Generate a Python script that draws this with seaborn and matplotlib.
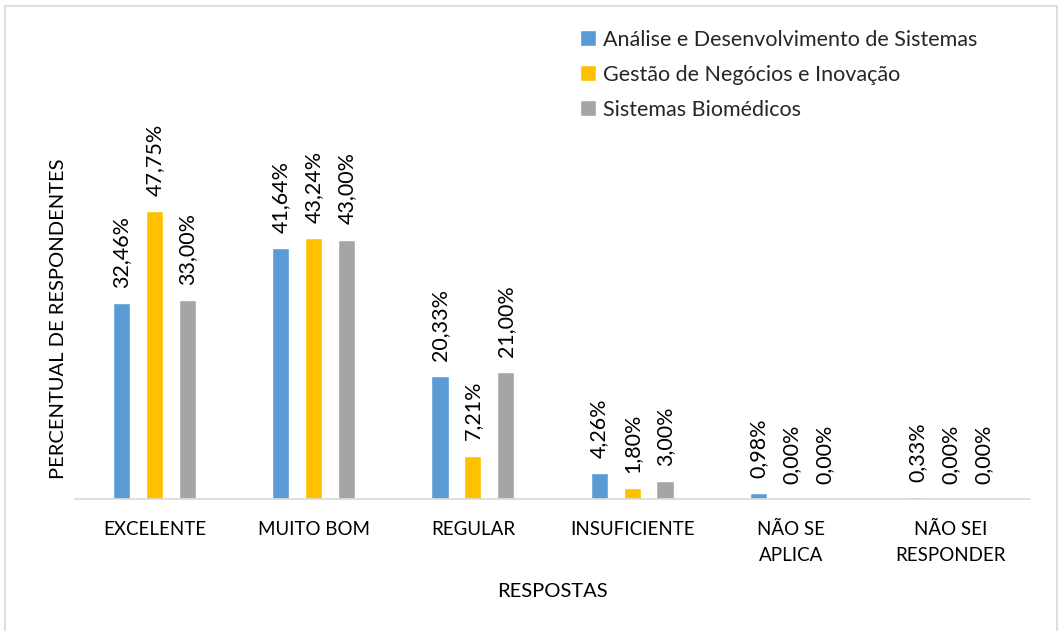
import matplotlib
matplotlib.use("Agg")
import matplotlib.pyplot as plt
import seaborn as sns
import pandas as pd
from matplotlib.patches import Rectangle

categorias = ["EXCELENTE", "MUITO BOM", "REGULAR", "INSUFICIENTE", "NÃO SE\nAPLICA", "NÃO SEI\nRESPONDER"]
cursos = ["Análise e Desenvolvimento de Sistemas", "Gestão de Negócios e Inovação", "Sistemas Biomédicos"]
ads = [32.46, 41.64, 20.33, 4.26, 0.98, 0.33]
gni = [47.75, 43.24, 7.21, 1.80, 0.00, 0.00]
sb = [33.00, 43.00, 21.00, 3.00, 0.00, 0.00]
cores = ["#5B9BD5", "#FFC000", "#A5A5A5"]

rows = []
for curso, vals in zip(cursos, [ads, gni, sb]):
    for cat, v in zip(categorias, vals):
        rows.append({"Resposta": cat, "Curso": curso, "Valor": v})
df = pd.DataFrame(rows)

sns.set_theme(style="white")
plt.rcParams["font.family"] = ["Lato", "DejaVu Sans"]

fig = plt.figure(figsize=(10.62, 6.31), dpi=100)
ax = fig.add_axes([75 / 1062, (631 - 499) / 631, (1030 - 75) / 1062, (499 - 20) / 631])

sns.barplot(data=df, x="Resposta", y="Valor", hue="Curso", order=categorias,
            hue_order=cursos, palette=cores, width=0.62, gap=0.48,
            saturation=1, ax=ax, legend=True, errorbar=None)

for cont in ax.containers:
    labels = [f"{b.get_height():.2f}%".replace(".", ",") for b in cont]
    ax.bar_label(cont, labels=labels, rotation=90, padding=11, fontsize=15.5, color="#000000")

ax.set_xlim(-0.5, 5.5)
ax.set_ylim(0, (499 - 20) / 6.03)
ax.set_yticks([])
for s in ["top", "right", "left"]:
    ax.spines[s].set_visible(False)
ax.spines["bottom"].set_color("#D9D9D9")
ax.spines["bottom"].set_linewidth(1.2)
ax.tick_params(axis="x", length=0, pad=16, labelsize=13.5, colors="#000000")
for t in ax.get_xticklabels():
    t.set_linespacing(1.65)

ax.set_xlabel("RESPOSTAS", fontsize=14.5, color="#000000")
ax.xaxis.set_label_coords(0.50, -0.175)
ax.set_ylabel("PERCENTUAL DE RESPONDENTES", fontsize=14.5, color="#000000")
ax.yaxis.set_label_coords(-0.008, 0.376)

leg = ax.legend(loc="upper left", bbox_to_anchor=(496 / 955, 0.998), frameon=False,
                fontsize=15.5, handlelength=0.75, handleheight=0.75, handletextpad=0.35,
                labelspacing=0.7, borderaxespad=0)

fig.patches.append(Rectangle((5 / 1062, -0.1), (1057 - 5) / 1062, 1.1 - 6 / 631,
                             transform=fig.transFigure, fill=False,
                             edgecolor="#D9D9D9", linewidth=1.2))

fig.savefig("out.png", dpi=100)
